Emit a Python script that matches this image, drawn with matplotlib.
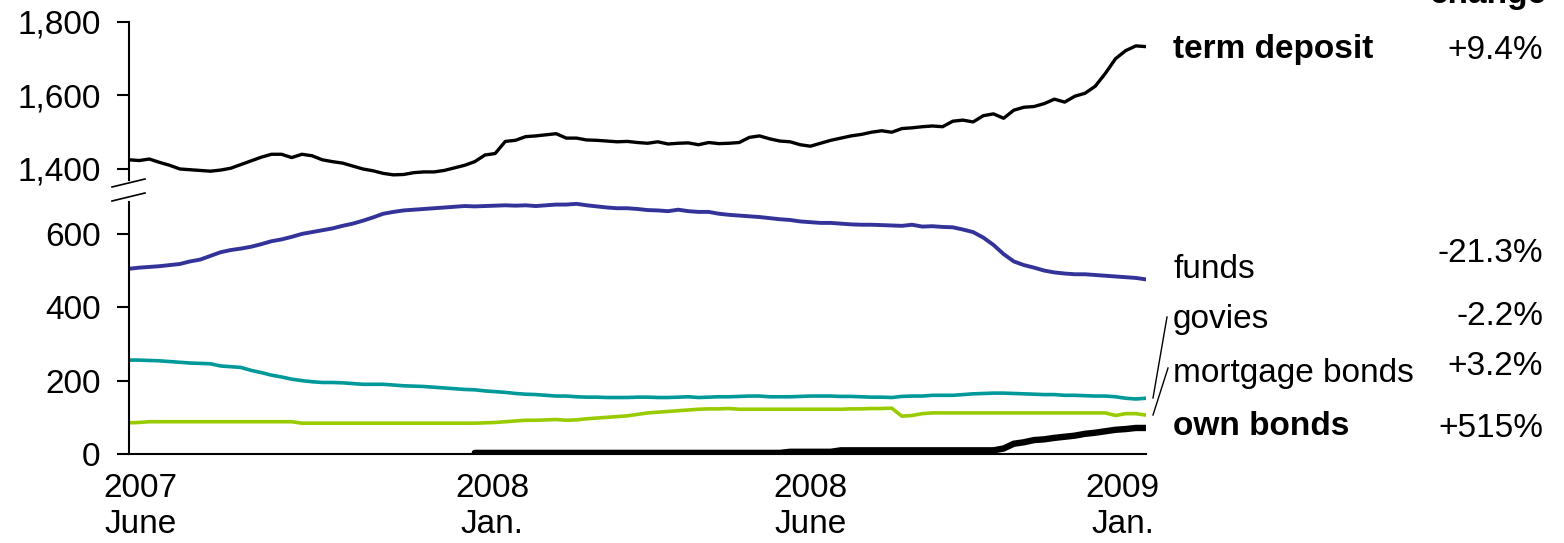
import numpy as np
import matplotlib.pyplot as plt
from matplotlib.lines import Line2D

plt.rcParams['font.family'] = ['Liberation Sans', 'DejaVu Sans']

# observation index (weekly-ish steps from June 2007 to Jan 2009)
obs = np.arange(101)

term_deposit = [1425, 1423, 1427, 1418, 1410, 1400, 1398, 1396, 1394, 1397,
                1402, 1412, 1422, 1432, 1440, 1440, 1431, 1440, 1436, 1425,
                1420, 1416, 1408, 1400, 1395, 1388, 1384, 1385, 1390, 1392,
                1392, 1396, 1403, 1410, 1420, 1438, 1442, 1475, 1478, 1488,
                1490, 1493, 1496, 1484, 1484, 1479, 1478, 1476, 1474, 1475,
                1472, 1470, 1474, 1468, 1470, 1471, 1466, 1472, 1469, 1470,
                1472, 1486, 1490, 1482, 1476, 1474, 1466, 1462, 1470, 1478,
                1484, 1490, 1494, 1500, 1504, 1500, 1510, 1512, 1515, 1517,
                1515, 1530, 1533, 1528, 1545, 1550, 1538, 1560, 1568, 1570,
                1578, 1590, 1582, 1598, 1606, 1625, 1660, 1700, 1722, 1735,
                1733]

funds = [505, 508, 510, 512, 515, 518, 525, 530, 540, 550,
         556, 560, 565, 572, 580, 585, 592, 600, 605, 610,
         615, 622, 628, 636, 645, 655, 660, 664, 666, 668,
         670, 672, 674, 676, 675, 676, 677, 678, 677, 678,
         676, 678, 680, 680, 682, 678, 675, 672, 670, 670,
         668, 665, 664, 662, 666, 662, 660, 660, 655, 652,
         650, 648, 646, 643, 640, 638, 634, 632, 630, 630,
         628, 626, 625, 625, 624, 623, 622, 625, 620, 621,
         619, 618, 612, 605, 590, 570, 545, 525, 515, 508,
         500, 495, 492, 490, 490, 488, 486, 484, 482, 480,
         476]

govies = [256, 256, 255, 254, 252, 250, 248, 247, 246, 240,
          238, 236, 228, 222, 215, 210, 204, 200, 197, 195,
          195, 194, 192, 190, 190, 190, 188, 186, 185, 184,
          182, 180, 178, 176, 175, 172, 170, 168, 165, 163,
          162, 160, 158, 158, 156, 155, 155, 154, 154, 154,
          155, 155, 154, 154, 155, 156, 154, 155, 156, 156,
          157, 158, 158, 156, 156, 156, 157, 158, 158, 158,
          157, 157, 156, 155, 155, 154, 157, 158, 158, 160,
          160, 160, 162, 164, 165, 166, 166, 165, 164, 163,
          162, 162, 160, 160, 159, 158, 158, 156, 152, 150,
          152]

mortgage_bonds = [85, 86, 88, 88, 88, 88, 88, 88, 88, 88,
                  88, 88, 88, 88, 88, 88, 88, 84, 84, 84,
                  84, 84, 84, 84, 84, 84, 84, 84, 84, 84,
                  84, 84, 84, 84, 84, 85, 86, 88, 90, 92,
                  92, 93, 94, 92, 93, 96, 98, 100, 102, 104,
                  108, 112, 114, 116, 118, 120, 122, 123, 123, 124,
                  122, 122, 122, 122, 122, 122, 122, 122, 122, 122,
                  122, 123, 123, 124, 124, 125, 103, 105, 110, 112,
                  112, 112, 112, 112, 112, 112, 112, 112, 112, 112,
                  112, 112, 112, 112, 112, 112, 112, 105, 110, 110,
                  106]

own_bonds = [np.nan] * 34 + [3] * 31 + [6] * 5 + [10] * 16 + [
    15, 28, 32, 38, 40, 44, 47, 50, 55, 58, 62, 66, 68, 71, 71]

labels = ['term deposit', 'funds', 'govies', 'mortgage bonds', 'own bonds']
changes = ['+9.4%', '-21.3%', '-2.2%', '+3.2%', '+515%']
tick_pos = [1.1, 35.7, 67.0, 97.7]
tick_labels = ['2007\nJune', '2008\nJan.', '2008\nJune', '2009\nJan.']

W, H = 1564, 543
fig = plt.figure(figsize=(W / 100, H / 100), dpi=100)


def px(x, y):
    return x / W, 1 - y / H


ax_top = fig.add_axes([129 / W, 1 - 180 / H, (1146 - 129) / W, (180 - 22) / H])
ax_bot = fig.add_axes([129 / W, 1 - 454 / H, (1146 - 129) / W, (454 - 202) / H])

ax_top.plot(obs, term_deposit, color='black', lw=2.4)
ax_bot.plot(obs, funds, color='#333399', lw=2.8)
ax_bot.plot(obs, govies, color='#009999', lw=2.6)
ax_bot.plot(obs, mortgage_bonds, color='#99CC00', lw=2.6)
ax_bot.plot(obs, own_bonds, color='black', lw=4.6, solid_capstyle='round')

for ax in (ax_top, ax_bot):
    ax.set_xlim(0, 100)
    for s in ('top', 'right'):
        ax.spines[s].set_visible(False)
    ax.spines['left'].set_linewidth(1.5)
    ax.tick_params(axis='y', length=8.5, width=1.5, pad=12, labelsize=24)

ax_top.set_ylim(1370, 1800)
ax_top.set_yticks([1400, 1600, 1800])
ax_top.spines['bottom'].set_visible(False)
ax_top.set_xticks([])
ax_top.yaxis.set_major_formatter(plt.FuncFormatter(lambda v, p: f'{v:,.0f}'))

ax_bot.set_ylim(0, 687)
ax_bot.set_yticks([0, 200, 400, 600])
ax_bot.spines['bottom'].set_linewidth(1.5)
ax_bot.set_xticks(tick_pos)
ax_bot.set_xticklabels(tick_labels)
ax_bot.tick_params(axis='x', length=0, pad=14, labelsize=24)

# axis break marks
for y0 in (187, 201):
    fig.add_artist(Line2D([112 / W, 145 / W], [1 - y0 / H, 1 - (y0 - 8) / H],
                          transform=fig.transFigure, color='black', lw=1.2))

# labels on the right
label_y = [58, 278, 328, 382, 435]
change_y = [59, 262, 325, 375, 437]
bold = [True, False, False, False, True]
for lab, ch, ly, cy, b in zip(labels, changes, label_y, change_y, bold):
    fig.text(*px(1173, ly), lab, fontsize=24, va='baseline', ha='left',
             fontweight='bold' if b else 'normal')
    fig.text(*px(1543, cy), ch, fontsize=24, va='baseline', ha='right')

fig.text(*px(1547, 3), 'change', fontsize=24, va='baseline', ha='right',
         fontweight='bold')

# leader lines for govies and mortgage bonds
for (x0, y0), (x1, y1) in [((1167, 317), (1153, 398)), ((1168, 368), (1153, 415))]:
    fig.add_artist(Line2D([x0 / W, x1 / W], [1 - y0 / H, 1 - y1 / H],
                          transform=fig.transFigure, color='black', lw=1.0))

fig.savefig('out.png', dpi=100)
